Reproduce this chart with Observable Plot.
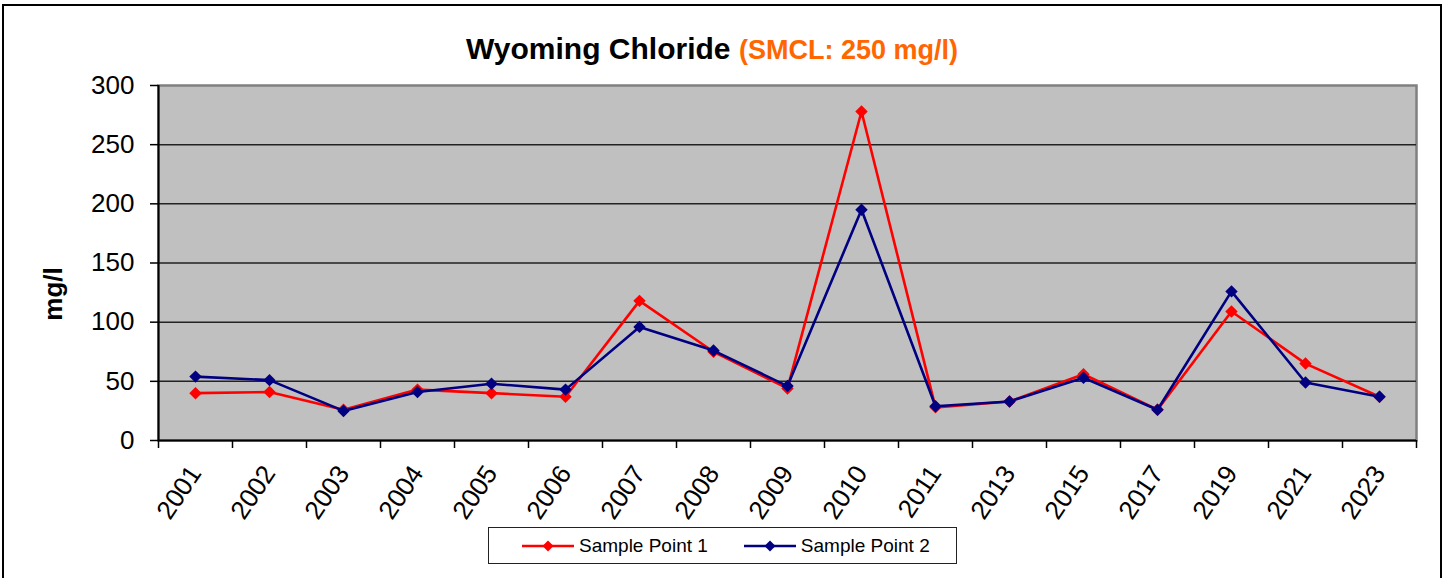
<!DOCTYPE html>
<html>
<head>
<meta charset="utf-8">
<script src="https://cdn.jsdelivr.net/npm/d3@7"></script>
<script src="https://cdn.jsdelivr.net/npm/@observablehq/plot@0.6"></script>
<style>
  body { margin: 0; background: #fff; font-family: "Liberation Sans", Arial, sans-serif; width: 1442px; height: 578px; overflow: hidden; position: relative; }
  #frame { position: absolute; left: 2px; top: 4px; width: 1440px; height: 640px; border: 2px solid #000; box-sizing: border-box; pointer-events: none; }
  #title { position: absolute; left: 0; top: 34px; width: 1424px; text-align: center; line-height: 30px; white-space: nowrap; }
  #title .main { font-size: 30px; font-weight: bold; color: #000; }
  #title .sub { font-size: 27px; font-weight: bold; color: #FF6600; margin-left: 4px; }
  #chart { position: absolute; left: 0; top: 70px; }
  #legend { position: absolute; left: 488px; top: 527px; width: 469px; height: 37px; box-sizing: border-box; border: 1px solid #222; display: flex; align-items: center; padding-left: 33px; white-space: nowrap; }
  #legend .item { display: flex; align-items: center; margin-right: 36px; flex-shrink: 0; }
  #legend .item svg { flex-shrink: 0; }
  #legend .item span { font-size: 19px; margin-left: 5px; color: #000; white-space: nowrap; }
</style>
</head>
<body>
<div id="title"><span class="main">Wyoming Chloride</span> <span class="sub">(SMCL: 250 mg/l)</span></div>
<div id="chart"></div>
<div id="legend"></div>
<div id="frame"></div>
<script>
const years = ["2001","2002","2003","2004","2005","2006","2007","2008","2009","2010","2011","2013","2015","2017","2019","2021","2023"];
const samplePoint1 = [40, 41, 26, 43, 40, 37, 118, 75, 44, 278, 28, 33, 56, 26, 109, 65, 37];
const samplePoint2 = [54, 51, 25, 41, 48, 43, 96, 76, 46, 195, 29, 33, 53, 26, 126, 49, 37];
const seriesNames = ["Sample Point 1", "Sample Point 2"];
const seriesColors = ["#FF0000", "#000080"];
const yTicks = [0, 50, 100, 150, 200, 250, 300];
const yLabel = "mg/l";

const rows1 = samplePoint1.map((v, i) => ({pos: i + 0.5, value: v}));
const rows2 = samplePoint2.map((v, i) => ({pos: i + 0.5, value: v}));
const font = "Liberation Sans, Arial, sans-serif";

const chart = Plot.plot({
  width: 1442,
  height: 455,
  marginLeft: 158,
  marginRight: 26,
  marginTop: 15,
  marginBottom: 85,
  style: {fontFamily: font, fontSize: "26px", color: "#000", background: "transparent", overflow: "visible"},
  x: {type: "linear", domain: [0, years.length], axis: null},
  y: {domain: [0, 300], axis: null},
  marks: [
    Plot.frame({fill: "#C0C0C0", stroke: "#808080", strokeWidth: 2.5}),
    Plot.gridY(yTicks.filter(t => t > 0 && t < 300), {stroke: "#222", strokeOpacity: 1, strokeWidth: 1.5}),
    Plot.axisY(yTicks, {tickSize: 8, tickPadding: 16, fontSize: 26, label: null, strokeWidth: 1.5}),
    Plot.axisX(d3.range(years.length + 1), {tickSize: 8, tickFormat: () => "", label: null, strokeWidth: 1.5}),
    Plot.axisX(d3.range(years.length).map(i => i + 0.5), {tickSize: 0, tickPadding: 28, tickRotate: -56, fontSize: 26, label: null, tickFormat: d => years[Math.floor(d)]}),
    Plot.ruleX([0], {stroke: "#000", strokeWidth: 2}),
    Plot.ruleY([0], {stroke: "#000", strokeWidth: 2}),
    Plot.line(rows1, {x: "pos", y: "value", stroke: seriesColors[0], strokeWidth: 2.6}),
    Plot.dot(rows1, {x: "pos", y: "value", symbol: "diamond2", r: 5.6, fill: seriesColors[0], stroke: "none"}),
    Plot.line(rows2, {x: "pos", y: "value", stroke: seriesColors[1], strokeWidth: 2.6}),
    Plot.dot(rows2, {x: "pos", y: "value", symbol: "diamond2", r: 5.6, fill: seriesColors[1], stroke: "none"}),
    Plot.text([yLabel], {frameAnchor: "left", textAnchor: "middle", rotate: -90, dx: -97, dy: 31, fontWeight: "bold", fontSize: 26, lineAnchor: "bottom", fill: "#000"})
  ]
});
document.getElementById("chart").appendChild(chart);

const legend = document.getElementById("legend");
seriesNames.forEach((name, k) => {
  const item = document.createElement("div");
  item.className = "item";
  const c = seriesColors[k];
  item.innerHTML = `<svg width="52" height="14"><line x1="0" y1="7" x2="52" y2="7" stroke="${c}" stroke-width="2.6"/><path d="M26 1.5 L31.5 7 L26 12.5 L20.5 7 Z" fill="${c}"/></svg><span></span>`;
  item.querySelector("span").textContent = name;
  legend.appendChild(item);
});
</script>
</body>
</html>
